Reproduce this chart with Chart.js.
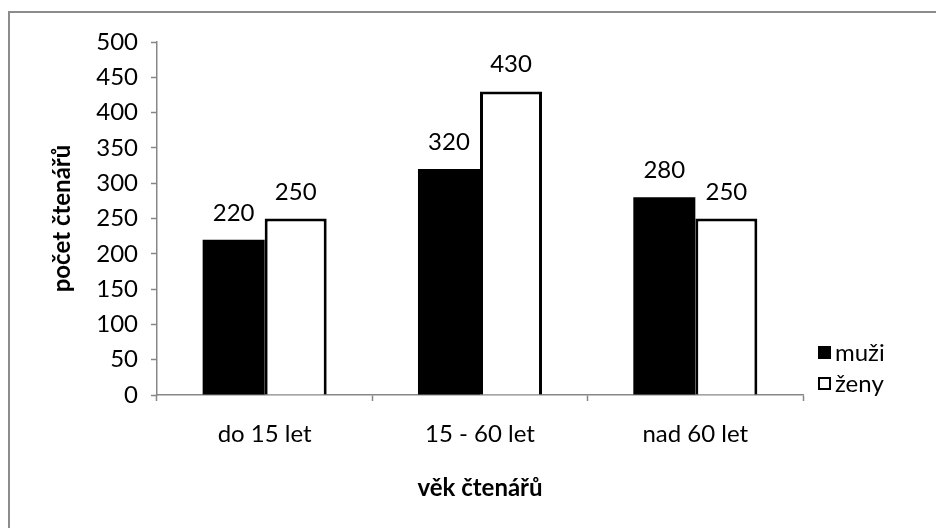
<!DOCTYPE html>
<html>
<head>
<meta charset="utf-8">
<script src="https://cdn.jsdelivr.net/npm/chart.js@4.4.1/dist/chart.umd.min.js"></script>
<style>
  html, body { margin: 0; padding: 0; background: #fff; overflow: hidden; }
  #wrap { position: relative; width: 936px; height: 528px; }
</style>
</head>
<body>
<div id="wrap"><canvas id="c" width="936" height="528"></canvas></div>
<script>
// Age groups and reader counts
const categories = ['do 15 let', '15 - 60 let', 'nad 60 let'];
const muzi = [220, 320, 280];
const zeny = [250, 430, 250];
const seriesNames = ['muži', 'ženy'];
const yTitle = 'počet čtenářů';
const xTitle = 'věk čtenářů';

const FONT = 'Lato, "Open Sans", "Noto Sans", sans-serif';
const FSIZE = 24;
const AXIS_GRAY = '#878787';

// Outer frame of the chart object
const framePlugin = {
  id: 'frame',
  beforeDraw(chart) {
    const ctx = chart.ctx;
    ctx.save();
    ctx.strokeStyle = '#8c8c8c';
    ctx.lineWidth = 2;
    ctx.beginPath();
    ctx.moveTo(9, 600);
    ctx.lineTo(9, 12);
    ctx.lineTo(1000, 12);
    ctx.stroke();
    ctx.restore();
  }
};

// Value labels above each bar
const valueLabels = {
  id: 'valueLabels',
  afterDatasetsDraw(chart) {
    const ctx = chart.ctx;
    ctx.save();
    ctx.font = FSIZE + 'px ' + FONT;
    ctx.fillStyle = '#000';
    ctx.textAlign = 'center';
    ctx.textBaseline = 'alphabetic';
    chart.data.datasets.forEach((ds, i) => {
      const meta = chart.getDatasetMeta(i);
      meta.data.forEach((bar, j) => {
        ctx.fillText(String(ds.data[j]), bar.x, bar.y - 19);
      });
    });
    ctx.restore();
  }
};

// Legend at the right of the plot
const sideLegend = {
  id: 'sideLegend',
  afterDraw(chart) {
    const ctx = chart.ctx;
    ctx.save();
    ctx.font = FSIZE + 'px ' + FONT;
    ctx.textAlign = 'left';
    ctx.textBaseline = 'middle';
    chart.data.datasets.forEach((ds, i) => {
      const y = 346 + i * 31;
      ctx.fillStyle = ds.backgroundColor;
      ctx.fillRect(818, y, 13, 13);
      if (ds.borderWidth) {
        ctx.strokeStyle = ds.borderColor;
        ctx.lineWidth = 2;
        ctx.strokeRect(819, y + 1, 11, 11);
      }
      ctx.fillStyle = '#000';
      ctx.fillText(ds.label, 835, y + 7);
    });
    ctx.restore();
  }
};

new Chart(document.getElementById('c'), {
  type: 'bar',
  data: {
    labels: categories,
    datasets: [
      {
        label: seriesNames[0],
        data: muzi,
        backgroundColor: '#000000',
        borderWidth: 0,
        categoryPercentage: 0.576,
        barPercentage: 1
      },
      {
        label: seriesNames[1],
        data: zeny,
        backgroundColor: '#ffffff',
        borderColor: '#000000',
        borderWidth: 3,
        categoryPercentage: 0.576,
        barPercentage: 1
      }
    ]
  },
  options: {
    responsive: false,
    animation: false,
    events: [],
    layout: { padding: { left: 0, top: 42, right: 133, bottom: 0 } },
    plugins: {
      legend: { display: false },
      tooltip: { enabled: false }
    },
    scales: {
      x: {
        grid: {
          offset: true,
          drawOnChartArea: false,
          drawTicks: true,
          tickLength: 6,
          tickColor: AXIS_GRAY,
          tickWidth: 1.5
        },
        border: { color: AXIS_GRAY, width: 1.5 },
        ticks: { font: { family: FONT, size: FSIZE }, color: '#000', padding: 19 },
        title: {
          display: true,
          text: xTitle,
          color: '#000',
          font: { family: FONT, size: FSIZE, weight: 'bold' },
          padding: { top: 0, bottom: 25 }
        },
        afterFit(scale) { scale.height = 133; }
      },
      y: {
        min: 0,
        max: 500,
        grid: {
          drawOnChartArea: false,
          drawTicks: true,
          tickLength: 6,
          tickColor: AXIS_GRAY,
          tickWidth: 1.5
        },
        border: { color: AXIS_GRAY, width: 1.5 },
        ticks: {
          stepSize: 50,
          font: { family: FONT, size: FSIZE },
          color: '#000',
          padding: 13
        },
        title: {
          display: true,
          text: yTitle,
          color: '#000',
          font: { family: FONT, size: FSIZE, weight: 'bold' },
          padding: { top: 48, bottom: 0 }
        },
        afterFit(scale) { scale.width = 157; }
      }
    }
  },
  plugins: [framePlugin, valueLabels, sideLegend]
});
</script>
</body>
</html>
